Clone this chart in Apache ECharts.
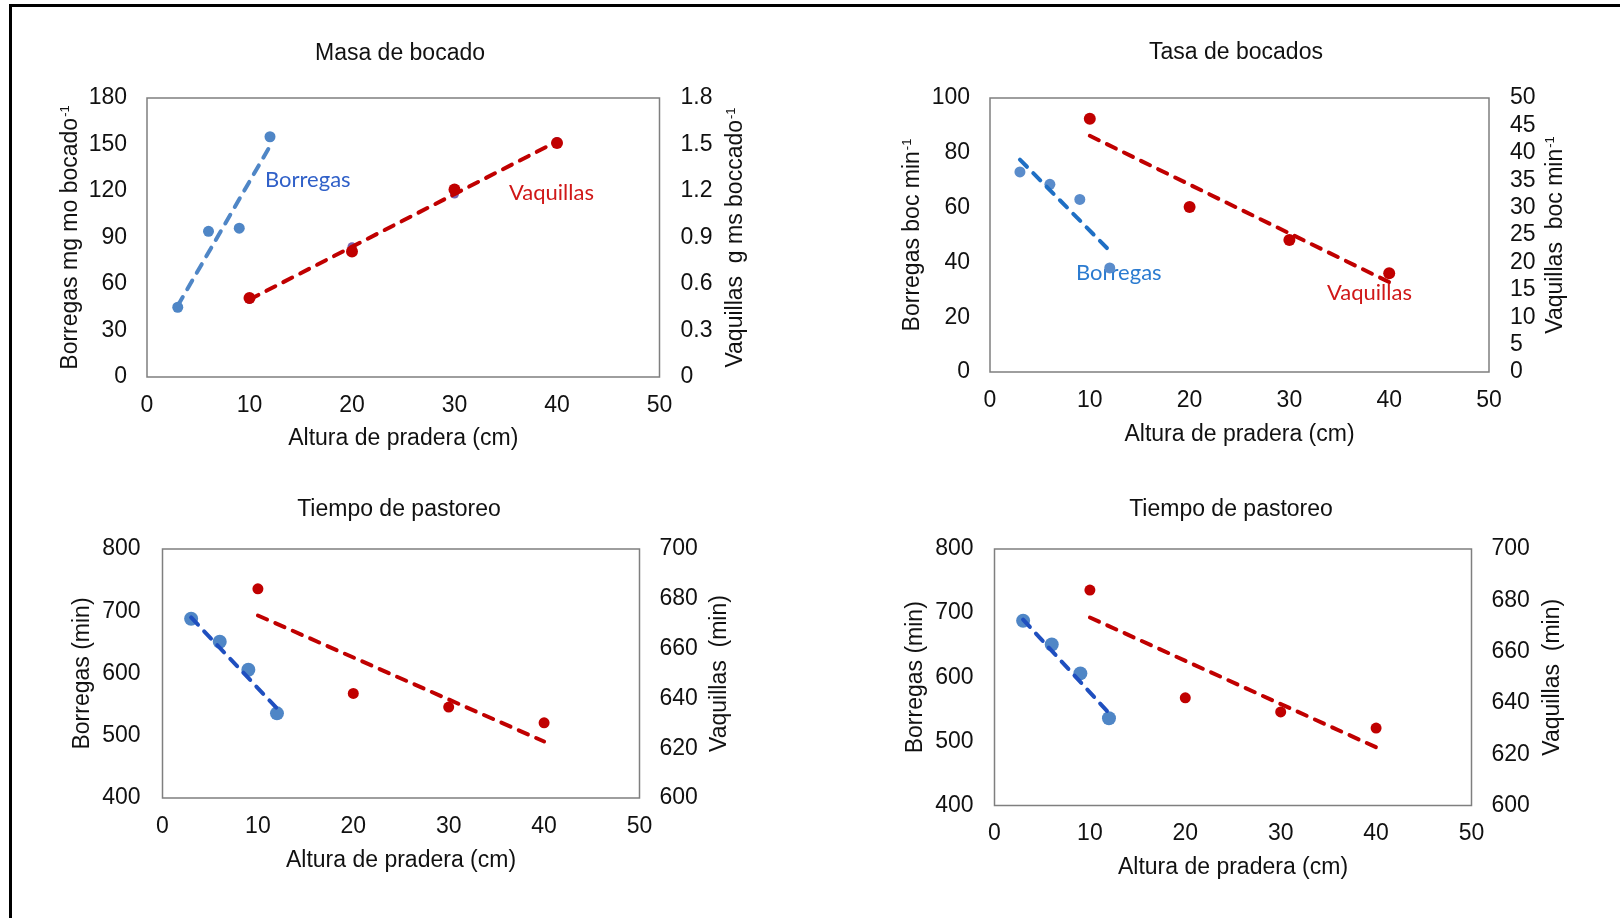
<!DOCTYPE html>
<html>
<head>
<meta charset="utf-8">
<script src="https://cdn.jsdelivr.net/npm/echarts@6/dist/echarts.min.js"></script>
<style>
  html, body { margin: 0; padding: 0; background: #fff; }
  #main { width: 1620px; height: 918px; }
</style>
</head>
<body>
<div id="main"></div>
<script>
// alturas de pradera (cm)
var borregasX = [3, 6, 9, 12];
var vaquillasX = [10, 20, 30, 40];
var trendBorregasX = [3, 12];
var trendVaquillasX = [10, 40];

// Masa de bocado
var masaBorregas = [45, 94, 96, 155];
var masaVaquillas = [0.51, 0.81, 1.21, 1.51];
var masaVaquillas2 = [0.50, 0.84, 1.18, 1.52];
var masaBorregasTrend = [46, 149];
var masaVaquillasTrend = [0.50, 1.52];

// Tasa de bocados
var tasaBorregas = [73, 68.5, 63, 38];
var tasaVaquillas = [46.2, 30.1, 24.1, 18];
var tasaBorregasTrend = [77.5, 44.2];
var tasaVaquillasTrend = [43.1, 16.4];

// Tiempo de pastoreo
var tiempoBorregas = [688, 651, 606, 536];
var tiempoVaquillas = [684, 642, 636.5, 630.2];
var tiempoBorregasTrend = [690, 544];
var tiempoVaquillasTrend = [673.3, 622.7];

var titulos = ['Masa de bocado', 'Tasa de bocados', 'Tiempo de pastoreo', 'Tiempo de pastoreo'];
var xNombre = 'Altura de pradera (cm)';

var myChart = echarts.init(document.getElementById('main'));

var font = "'Liberation Sans', Arial, sans-serif";

function pares(xs, ys) {
    var out = [];
    for (var i = 0; i < xs.length; i++) {
        out.push([xs[i], ys[i]]);
    }
    return out;
}

var grids = [
    { left: 147, top: 98, width: 512.5, height: 279 },
    { left: 990, top: 98, width: 499, height: 274 },
    { left: 162.5, top: 549, width: 477, height: 249 },
    { left: 994.5, top: 549, width: 477, height: 256.5 }
];

var titlePos = [[400, 42], [1236, 41], [399, 498], [1231, 498]];

var rich = {
    n: { fontSize: 23, fontFamily: font, color: '#111' },
    s: { fontSize: 13, fontFamily: font, color: '#111', verticalAlign: 'top', padding: [0, 0, 0, 1] }
};

function yAxis(grid, pos, min, max, interval, name, gap, margin) {
    return {
        type: 'value',
        gridIndex: grid,
        position: pos,
        min: min,
        max: max,
        interval: interval,
        name: name,
        nameLocation: 'middle',
        nameRotate: 90,
        nameGap: gap,
        nameTextStyle: { fontSize: 23, fontFamily: font, color: '#111', rich: rich },
        axisLine: { show: false },
        axisTick: { show: false },
        splitLine: { show: false },
        axisLabel: { fontSize: 23, fontFamily: font, color: '#111', margin: margin }
    };
}

var xAxes = [];
var yAxes = [];
var xGaps = [50, 51, 51, 51];
var xMargins = [17, 17, 17, 17];
for (var g = 0; g < 4; g++) {
    xAxes.push({
        type: 'value',
        gridIndex: g,
        min: 0,
        max: 50,
        interval: 10,
        name: xNombre,
        nameLocation: 'middle',
        nameGap: xGaps[g],
        nameTextStyle: { fontSize: 23, fontFamily: font, color: '#111' },
        axisLine: { show: false },
        axisTick: { show: false },
        splitLine: { show: false },
        axisLabel: { fontSize: 23, fontFamily: font, color: '#111', margin: xMargins[g] }
    });
}

yAxes.push(yAxis(0, 'left', 0, 180, 30, '{n|Borregas mg mo bocado}{s|-1}', 65, 20));
yAxes.push(yAxis(0, 'right', 0, 1.8, 0.3, '{n|Vaquillas  g ms boccado}{s|-1}', 65, 21));
yAxes.push(yAxis(1, 'left', 0, 100, 20, '{n|Borregas boc min}{s|-1}', 66, 20));
yAxes.push(yAxis(1, 'right', 0, 50, 5, '{n|Vaquillas  boc min}{s|-1}', 55, 21));
yAxes.push(yAxis(2, 'left', 400, 800, 100, 'Borregas (min)', 68, 22));
yAxes.push(yAxis(2, 'right', 600, 700, 20, 'Vaquillas  (min)', 69, 20));
yAxes.push(yAxis(3, 'left', 400, 800, 100, 'Borregas (min)', 67, 21));
yAxes.push(yAxis(3, 'right', 600, 700, 20, 'Vaquillas  (min)', 70, 20));

function puntos(xi, yi, data, color, size, z) {
    return {
        type: 'scatter',
        xAxisIndex: xi,
        yAxisIndex: yi,
        data: data,
        symbolSize: size,
        itemStyle: { color: color, opacity: 1 },
        z: z || 2,
        silent: true
    };
}

function tendencia(xi, yi, data, color, z) {
    return {
        type: 'line',
        xAxisIndex: xi,
        yAxisIndex: yi,
        data: data,
        symbol: 'none',
        lineStyle: { color: color, width: 4, type: [10, 9], cap: 'round' },
        z: z || 3,
        silent: true
    };
}

var azulClaro = '#4f86c6';
var rojo = '#c00000';

var series = [
    // Masa de bocado
    puntos(0, 0, pares(borregasX, masaBorregas), azulClaro, 11),
    tendencia(0, 0, pares(trendBorregasX, masaBorregasTrend), '#4f86c6'),
    puntos(0, 1, pares(vaquillasX, masaVaquillas2), '#7a62b0', 9, 1),
    tendencia(0, 1, pares(trendVaquillasX, masaVaquillasTrend), rojo),
    puntos(0, 1, pares(vaquillasX, masaVaquillas), rojo, 12, 4),
    // Tasa de bocados
    puntos(1, 2, pares(borregasX, tasaBorregas), '#5a8ccb', 11),
    tendencia(1, 2, pares(trendBorregasX, tasaBorregasTrend), '#1f6fc4'),
    puntos(1, 3, pares(vaquillasX, tasaVaquillas), rojo, 12),
    tendencia(1, 3, pares(trendVaquillasX, tasaVaquillasTrend), rojo),
    // Tiempo de pastoreo
    puntos(2, 4, pares(borregasX, tiempoBorregas), azulClaro, 14),
    tendencia(2, 4, pares(trendBorregasX, tiempoBorregasTrend), '#1f4fbf'),
    puntos(2, 5, pares(vaquillasX, tiempoVaquillas), rojo, 11),
    tendencia(2, 5, pares(trendVaquillasX, tiempoVaquillasTrend), rojo),
    puntos(3, 6, pares(borregasX, tiempoBorregas), azulClaro, 14),
    tendencia(3, 6, pares(trendBorregasX, tiempoBorregasTrend), '#1f4fbf'),
    puntos(3, 7, pares(vaquillasX, tiempoVaquillas), rojo, 11),
    tendencia(3, 7, pares(trendVaquillasX, tiempoVaquillasTrend), rojo)
];

var option = {
    backgroundColor: '#fff',
    animation: false,
    title: titulos.map(function (t, i) {
        return {
            text: t,
            left: titlePos[i][0],
            top: titlePos[i][1],
            textAlign: 'center',
            padding: 0,
            textStyle: { fontSize: 23, fontWeight: 'normal', fontFamily: font, color: '#111' }
        };
    }),
    grid: grids.map(function (gr) {
        return {
            left: gr.left, top: gr.top, width: gr.width, height: gr.height,
            show: true, borderColor: '#7f7f7f', borderWidth: 1.5, backgroundColor: 'transparent'
        };
    }),
    xAxis: xAxes,
    yAxis: yAxes,
    series: series,
    graphic: [
        { type: 'line', shape: { x1: 9, y1: 5.5, x2: 1620, y2: 5.5 }, style: { stroke: '#000', lineWidth: 3 } },
        { type: 'line', shape: { x1: 10.5, y1: 4, x2: 10.5, y2: 918 }, style: { stroke: '#000', lineWidth: 3 } },
        { type: 'text', x: 265, y: 180, style: { text: 'Borregas', fill: '#3060c8', font: "22px Lato, 'Open Sans', sans-serif", verticalAlign: 'middle' } },
        { type: 'text', x: 509, y: 193, style: { text: 'Vaquillas', fill: '#d01818', font: "22px Lato, 'Open Sans', sans-serif", verticalAlign: 'middle' } },
        { type: 'text', x: 1076, y: 273, style: { text: 'Borregas', fill: '#2b7bd0', font: "22px Lato, 'Open Sans', sans-serif", verticalAlign: 'middle' } },
        { type: 'text', x: 1327, y: 293, style: { text: 'Vaquillas', fill: '#d01818', font: "22px Lato, 'Open Sans', sans-serif", verticalAlign: 'middle' } }
    ]
};

myChart.setOption(option);
</script>
</body>
</html>
